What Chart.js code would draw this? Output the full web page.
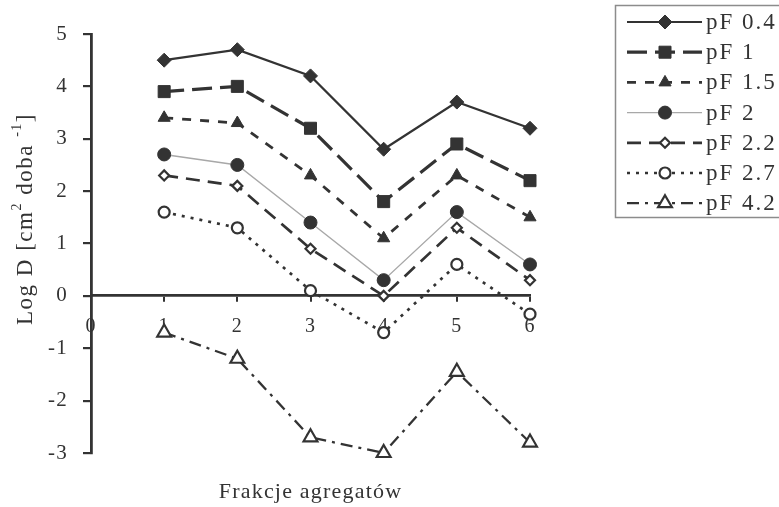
<!DOCTYPE html>
<html>
<head>
<meta charset="utf-8">
<script src="https://cdn.jsdelivr.net/npm/chart.js@4.4.0/dist/chart.umd.min.js"></script>
<style>
  html, body { margin: 0; padding: 0; background: #fff; }
  canvas { display: block; }
</style>
</head>
<body>
<canvas id="c" width="779" height="507"></canvas>
<script>
// data
var fractions = [1, 2, 3, 4, 5, 6];
var xTickValues = [0, 1, 2, 3, 4, 5, 6];
var yTickValues = [-3, -2, -1, 0, 1, 2, 3, 4, 5];
var seriesNames = ['pF 0.4', 'pF 1', 'pF 1.5', 'pF 2', 'pF 2.2', 'pF 2.7', 'pF 4.2'];
var pF04 = [4.5, 4.7, 4.2, 2.8, 3.7, 3.2];
var pF1  = [3.9, 4.0, 3.2, 1.8, 2.9, 2.2];
var pF15 = [3.4, 3.3, 2.3, 1.1, 2.3, 1.5];
var pF2  = [2.7, 2.5, 1.4, 0.3, 1.6, 0.6];
var pF22 = [2.3, 2.1, 0.9, 0.0, 1.3, 0.3];
var pF27 = [1.6, 1.3, 0.1, -0.7, 0.6, -0.35];
var pF42 = [-0.7, -1.2, -2.7, -3.0, -1.45, -2.8];
var xTitle = 'Frakcje agregatów';

var INK = '#333333';
var SERIF = '"Liberation Serif", "DejaVu Serif", serif';

function pts(values) {
  return values.map(function (v, i) { return { x: fractions[i], y: v }; });
}

function series(label, values, st) {
  return {
    label: label,
    data: pts(values),
    borderColor: st.line || INK,
    borderWidth: st.width,
    borderDash: st.dash || [],
    pointStyle: st.marker,
    pointRadius: st.r,
    pointHoverRadius: st.r,
    pointBackgroundColor: st.open ? '#fff' : INK,
    pointBorderColor: INK,
    pointBorderWidth: st.open ? 2.2 : 1,
    tension: 0,
    fill: false,
    clip: false
  };
}

var datasets = [
  series(seriesNames[0], pF04, { width: 2.2, marker: 'rectRot', r: 7 }),
  series(seriesNames[1], pF1, { width: 3.2, dash: [20, 8], marker: 'rect', r: 8.5 }),
  series(seriesNames[2], pF15, { width: 2.8, dash: [9, 9], marker: 'triangle', r: 7 }),
  series(seriesNames[3], pF2, { width: 1.4, line: '#a8a8a8', marker: 'circle', r: 6.5 }),
  series(seriesNames[4], pF22, { width: 2.7, dash: [14, 8], marker: 'rectRot', r: 5, open: true }),
  series(seriesNames[5], pF27, { width: 2.7, dash: [3, 6], marker: 'circle', r: 5.5, open: true }),
  series(seriesNames[6], pF42, { width: 2.3, dash: [12, 6, 3, 6], marker: 'triangle', r: 8, open: true })
];

// legend box and rotated y title with real superscripts
var paperBits = {
  id: 'paperBits',
  beforeDraw: function (chart) {
    chart.ctx.letterSpacing = '1.2px';
  },
  afterDraw: function (chart) {
    var ctx = chart.ctx;
    ctx.save();
    ctx.strokeStyle = '#8c8c8c';
    ctx.lineWidth = 1.5;
    ctx.strokeRect(615.5, 5.5, 180, 212);

    chart.data.datasets.forEach(function (ds, i) {
      var y = 22 + i * 30.2;
      ctx.setLineDash(ds.borderDash);
      ctx.lineWidth = ds.borderWidth;
      ctx.strokeStyle = ds.borderColor;
      ctx.beginPath();
      ctx.moveTo(627, y);
      ctx.lineTo(702, y);
      ctx.stroke();
      ctx.setLineDash([]);
      ctx.fillStyle = ds.pointBackgroundColor;
      ctx.strokeStyle = ds.pointBorderColor;
      ctx.lineWidth = ds.pointBorderWidth;
      Chart.helpers.drawPoint(ctx, {
        pointStyle: ds.pointStyle, radius: ds.pointRadius,
        borderWidth: ds.pointBorderWidth, rotation: 0
      }, 665, y);
      ctx.letterSpacing = '2px';
      ctx.fillStyle = INK;
      ctx.font = '23px ' + SERIF;
      ctx.textBaseline = 'middle';
      ctx.textAlign = 'left';
      ctx.fillText(ds.label, 706, y + 1);
    });

    // y title
    var parts = [
      ['Log D [cm', 23, 0], ['2', 14, -9], [' doba ', 23, 0], ['-1', 14, -9], [']', 23, 0]
    ];
    ctx.letterSpacing = '1.5px';
    var total = 0;
    parts.forEach(function (p) { ctx.font = p[1] + 'px ' + SERIF; total += ctx.measureText(p[0]).width; });
    ctx.translate(26, 219);
    ctx.rotate(-Math.PI / 2);
    ctx.textBaseline = 'middle';
    var x = -total / 2;
    parts.forEach(function (p) {
      ctx.font = p[1] + 'px ' + SERIF;
      ctx.fillText(p[0], x, p[2]);
      x += ctx.measureText(p[0]).width;
    });
    ctx.restore();
  }
};

Chart.defaults.font.family = SERIF;
Chart.defaults.color = INK;

new Chart(document.getElementById('c'), {
  type: 'line',
  data: { datasets: datasets },
  plugins: [paperBits],
  options: {
    responsive: false,
    animation: false,
    devicePixelRatio: 1,
    layout: { padding: { top: 34, left: 0, right: 249, bottom: 0 } },
    plugins: { legend: { display: false }, tooltip: { enabled: false } },
    scales: {
      x: {
        type: 'linear',
        position: { y: 0 },
        min: 0, max: 6,
        afterBuildTicks: function (s) { s.ticks = xTickValues.map(function (v) { return { value: v }; }); },
        afterFit: function (s) { s.height = 0; },
        ticks: { font: { size: 20 }, color: INK, padding: 14, maxRotation: 0 },
        grid: { drawOnChartArea: false, tickLength: 5, color: INK, lineWidth: 2 },
        border: { color: INK, width: 2.8 }
      },
      x2: {
        type: 'linear',
        position: 'bottom',
        min: 0, max: 6,
        afterFit: function (s) { s.height = 54; },
        ticks: { display: false },
        grid: { display: false, drawTicks: false },
        border: { display: false },
        title: { display: true, text: xTitle, font: { size: 22 }, color: INK, padding: { top: 0, bottom: 2 } }
      },
      y: {
        type: 'linear',
        position: 'left',
        min: -3, max: 5,
        afterBuildTicks: function (s) { s.ticks = yTickValues.map(function (v) { return { value: v }; }); },
        afterFit: function (s) { s.width = 91; },
        ticks: { font: { size: 21 }, color: INK, padding: 15 },
        grid: { drawOnChartArea: false, tickLength: 8, color: INK, lineWidth: 2.2 },
        border: { color: INK, width: 2.8 }
      }
    }
  }
});
</script>
</body>
</html>
